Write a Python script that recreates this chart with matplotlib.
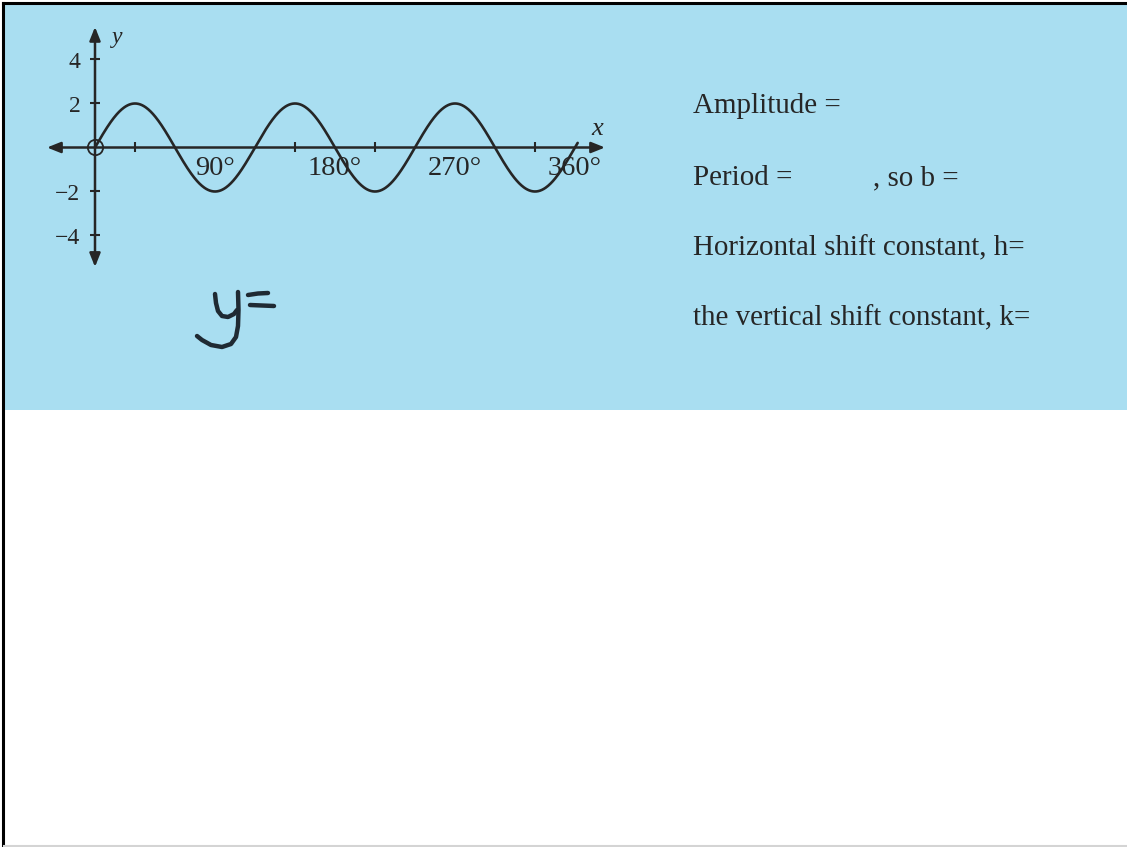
import numpy as np
import matplotlib
matplotlib.use("Agg")
import matplotlib.pyplot as plt
from matplotlib.patches import Rectangle
from matplotlib.lines import Line2D

# ---- data -------------------------------------------------------------
amplitude = 2.0          # peak height of the wave
period_deg = 120.0       # one full cycle, in degrees
x_start_deg, x_end_deg = 0.0, 362.0
x_tick_marks = [30, 90, 150, 210, 270, 330]
x_tick_values = [90, 180, 270, 360]
x_tick_labels = ["90°", "180°", "270°", "360°"]
y_tick_values = [-4, -2, 2, 4]
y_tick_labels = ["\u22124", "\u22122", "2", "4"]
prompts = ["Amplitude =", "Period =", "Horizontal shift constant, h=",
           "the vertical shift constant, k="]

# ---- figure -----------------------------------------------------------
W, H = 1127, 847
fig = plt.figure(figsize=(W / 100, H / 100), dpi=100)
fig.patch.set_facecolor("white")


def fx(px):
    return px / W


def fy(py):
    return 1 - py / H


BLUE = "#a9def1"
INK = "#262626"
SERIF = ["Liberation Serif", "DejaVu Serif"]

# blue worksheet panel
fig.patches.append(Rectangle((fx(5), fy(410)), (W - 5) / W, 405 / H,
                             transform=fig.transFigure, facecolor=BLUE,
                             edgecolor="none", zorder=-5))
# slide frame
fig.lines.append(Line2D([fx(3.5), fx(3.5)], [0, fy(3.5)], transform=fig.transFigure,
                        color="black", lw=2.2, zorder=5))
fig.lines.append(Line2D([fx(3.5), 1], [fy(3.5), fy(3.5)], transform=fig.transFigure,
                        color="black", lw=2.2, zorder=5))
fig.lines.append(Line2D([fx(4), 1], [fy(845.5), fy(845.5)], transform=fig.transFigure,
                        color="#d4d4d4", lw=1.5, zorder=5))

# ---- graph ------------------------------------------------------------
x0_px, px_per_deg = 95.0, 480.0 / 360.0
y0_px, px_per_unit = 147.5, 22.0
left_px, right_px, top_px, bot_px = 40, 620, 15, 280
ax = fig.add_axes([fx(left_px), fy(bot_px), (right_px - left_px) / W,
                   (bot_px - top_px) / H])
ax.set_xlim((left_px - x0_px) / px_per_deg, (right_px - x0_px) / px_per_deg)
ax.set_ylim((y0_px - bot_px) / px_per_unit, (y0_px - top_px) / px_per_unit)
ax.patch.set_visible(False)

for side in ("top", "right"):
    ax.spines[side].set_visible(False)
ax.spines["left"].set_position(("data", 0))
ax.spines["bottom"].set_position(("data", 0))
ax.spines["left"].set_visible(False)
ax.spines["bottom"].set_visible(False)

# axes with arrow heads at both ends
arrow_kw = dict(arrowstyle="<|-|>,head_length=0.45,head_width=0.18", color=INK,
                lw=1.8, mutation_scale=18, shrinkA=0, shrinkB=0)
ax.annotate("", xy=(382.5, 0), xytext=(-36, 0), arrowprops=arrow_kw, zorder=2)
ax.annotate("", xy=(0, 5.48), xytext=(0, -5.43), arrowprops=arrow_kw, zorder=2)

# x ticks: unlabeled marks plus labels
ax.set_xticks(x_tick_marks, minor=True)
ax.set_xticks(x_tick_values)
ax.set_xticklabels(x_tick_labels, fontsize=20.5, family=SERIF, color=INK)
ax.tick_params(axis="x", which="major", length=0, pad=6)
ax.tick_params(axis="x", which="minor", direction="inout", length=7,
               width=1.5, color=INK)

# y ticks
ax.set_yticks(y_tick_values)
ax.set_yticklabels(y_tick_labels, fontsize=17, family=SERIF, color=INK)
ax.tick_params(axis="y", direction="inout", length=7, width=1.5, color=INK, pad=7)

# the wave
xs = np.linspace(x_start_deg, x_end_deg, 800)
ys = amplitude * np.sin(2 * np.pi * xs / period_deg)
ax.plot(xs, ys, color=INK, lw=1.9, zorder=3, solid_capstyle="round")
ax.plot([0], [0], marker="o", ms=11, mfc="none", mec=INK, mew=1.3, zorder=4)

# axis names
ax.text(377, 0.85, "x", fontsize=19, style="italic", family=SERIF, color=INK,
        ha="center", va="center")
ax.text(17, 5.0, "y", fontsize=17, style="italic", family=SERIF, color=INK,
        ha="center", va="center")

# ---- prompts on the right --------------------------------------------
baselines = [113, 185, 255, 325]
for text, base in zip(prompts, baselines):
    fig.text(fx(693), fy(base), text, fontsize=20.9, family=SERIF, color=INK,
             va="baseline", ha="left")
fig.text(fx(873), fy(185), ", so b =", fontsize=20.9, family=SERIF, color=INK,
         va="baseline", ha="left")

# ---- handwritten "y=" ---------------------------------------------------
hand = fig.add_axes([0, 0, 1, 1])
hand.set_xlim(0, W)
hand.set_ylim(H, 0)
hand.axis("off")
pen = dict(color="#1f2a33", lw=3.2, solid_capstyle="round", solid_joinstyle="round")
hand.plot([215, 216, 218, 222, 228, 234, 237], [294, 303, 311, 316, 317, 314, 310], **pen)
hand.plot([238, 238.5, 238, 236, 231, 222, 211, 202, 197],
          [292, 310, 326, 337, 344, 347, 345, 340, 336], **pen)
hand.plot([248, 258, 268], [295, 293.5, 293], **pen)
hand.plot([250, 262, 274], [305, 305.5, 306], **pen)

fig.savefig("out.png", dpi=100)
